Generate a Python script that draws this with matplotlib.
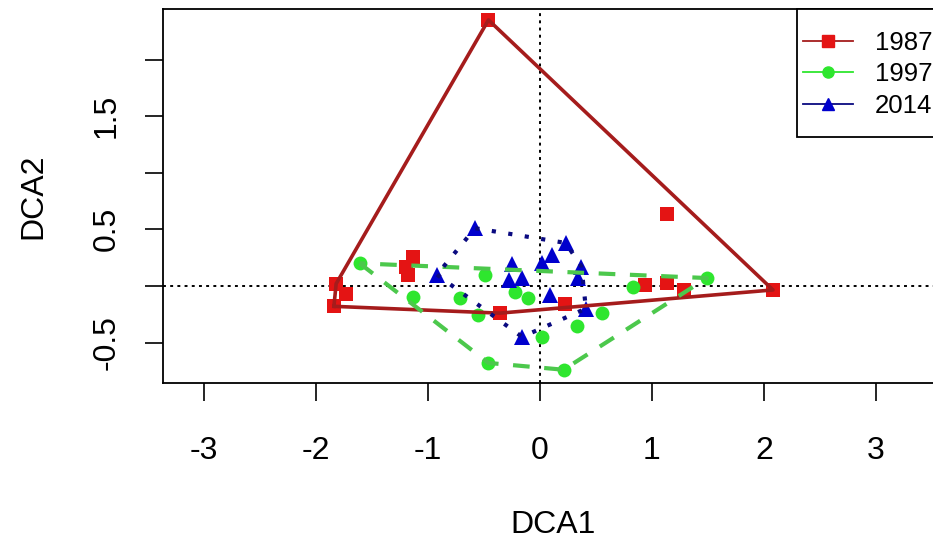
import matplotlib
matplotlib.use("Agg")
import matplotlib.pyplot as plt
from matplotlib.lines import Line2D
from matplotlib.patches import Rectangle

plt.rcParams['font.family'] = ['Liberation Sans', 'DejaVu Sans']

# DCA scores per survey year
x1987 = [-0.46, 2.08, 1.13, -1.82, -1.73, -1.84, -1.13, -1.20, -1.18, -0.36, 0.22, 0.94, 1.13, 1.29]
y1987 = [2.35, -0.035, 0.64, 0.02, -0.07, -0.18, 0.26, 0.17, 0.10, -0.24, -0.16, 0.01, 0.03, -0.035]

x1997 = [-1.61, -1.13, -0.71, -0.49, -0.55, -0.22, -0.11, 0.02, -0.46, 0.21, 0.33, 0.55, 0.83, 1.49]
y1997 = [0.20, -0.10, -0.11, 0.10, -0.26, -0.05, -0.11, -0.45, -0.68, -0.74, -0.35, -0.24, -0.01, 0.07]

x2014 = [-0.92, -0.58, -0.25, -0.28, -0.16, 0.02, 0.11, 0.23, 0.37, 0.34, 0.09, -0.16, 0.41]
y2014 = [0.10, 0.51, 0.19, 0.05, 0.07, 0.20, 0.27, 0.38, 0.17, 0.07, -0.08, -0.45, -0.20]

years = ["1987", "1997", "2014"]
xticks = [-3, -2, -1, 0, 1, 2, 3]
yticks = [-0.5, 0.0, 0.5, 1.0, 1.5, 2.0]
ytlabels = ["-0.5", "", "0.5", "", "1.5", ""]


def hull(xs, ys):
    # monotone chain, returns closed polygon
    pts = sorted(set(zip(xs, ys)))
    def cross(o, a, b):
        return (a[0]-o[0])*(b[1]-o[1]) - (a[1]-o[1])*(b[0]-o[0])
    lower = []
    for p in pts:
        while len(lower) >= 2 and cross(lower[-2], lower[-1], p) <= 0:
            lower.pop()
        lower.append(p)
    upper = []
    for p in reversed(pts):
        while len(upper) >= 2 and cross(upper[-2], upper[-1], p) <= 0:
            upper.pop()
        upper.append(p)
    h = lower[:-1] + upper[:-1]
    h.append(h[0])
    return [p[0] for p in h], [p[1] for p in h]


fig = plt.figure(figsize=(9.33, 5.43), dpi=100)
ax = fig.add_axes([0.1747, 0.2947, 0.836, 0.6888])

ax.axhline(0, color="black", lw=1.4, ls=(0, (1.5, 2.2)), zorder=1)
ax.axvline(0, color="black", lw=1.4, ls=(0, (1.5, 2.2)), zorder=1)

ax.plot(x1987, y1987, "s", color="#E41414", ms=10, mew=0, zorder=3)
ax.plot(x1997, y1997, "o", color="#2EE62E", ms=10, mew=0, zorder=3)
ax.plot(x2014, y2014, "^", color="#0000CD", ms=11, mew=0, zorder=3)

hx, hy = hull(x1987, y1987)
ax.plot(hx, hy, "-", color="#A51C1C", lw=2.6, zorder=4)
hx, hy = hull(x1997, y1997)
ax.plot(hx, hy, color="#4CC84C", lw=3, ls=(0, (4, 3.5)), zorder=4)
hx, hy = hull(x2014, y2014)
ax.plot(hx, hy, color="#0A0A80", lw=3, ls=(0, (1, 3)), zorder=4)

ax.set_xlim(-3.366, 3.598)
ax.set_ylim(-0.857, 2.447)
ax.set_xticks(xticks)
ax.set_xticklabels([str(t) for t in xticks])
ax.set_yticks(yticks)
ax.set_yticklabels(ytlabels, rotation=90, va="center")
ax.tick_params(length=13, width=1.2, labelsize=23)
ax.tick_params(axis="x", pad=25)
ax.tick_params(axis="y", pad=17)
for s in ax.spines.values():
    s.set_linewidth(1.3)

ax.set_xlabel("DCA1", fontsize=23, labelpad=32)
ax.set_ylabel("DCA2", fontsize=23, labelpad=31)

# legend box like R's legend(): frame drawn separately
ax.add_patch(Rectangle((0.8128, 0.6578), 0.5, 0.3422, transform=ax.transAxes,
                       fill=True, facecolor="white", edgecolor="black", lw=1.3,
                       zorder=5, clip_on=False))
handles = [
    Line2D([], [], color="#A51C1C", lw=1.3, marker="s", mfc="#E41414", mec="#E41414", ms=8),
    Line2D([], [], color="#2EE62E", lw=1.3, marker="o", mfc="#2EE62E", mec="#2EE62E", ms=8),
    Line2D([], [], color="#0A0A80", lw=1.3, marker="^", mfc="#0000CD", mec="#0000CD", ms=9),
]
leg = ax.legend(handles, years, loc="center left", bbox_to_anchor=(0.8205, 0.8249),
                fontsize=18.5, frameon=False, borderpad=0, borderaxespad=0,
                handlelength=1.95, handletextpad=0.86, labelspacing=0.3)
leg.set_zorder(6)

fig.savefig("out.png", dpi=100)
